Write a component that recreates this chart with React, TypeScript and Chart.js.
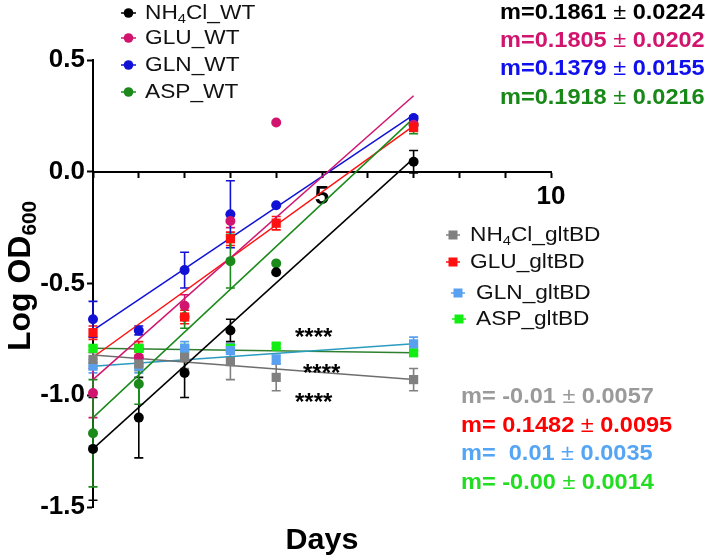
import React, { useEffect, useRef } from 'react';
import { Chart, registerables } from 'chart.js';

Chart.register(...registerables);

// ---------- data ----------
const days = [0, 1, 2, 3, 4, 7];
const fitDays = [0, 7];

const nh4clWT = [-1.24, -1.1, -0.9, -0.71, -0.45, 0.045];
const nh4clWTErr = [0.23, 0.18, 0.11, 0.05, 0, 0.05];
const gluWT = [-0.99, -0.83, -0.6, -0.22, 0.22, 0.21];
const gluWTErr = [0.11, 0.04, 0.05, 0.03, 0, 0.02];
const glnWT = [-0.66, -0.71, -0.44, -0.19, -0.15, 0.24];
const glnWTErr = [0.08, 0.02, 0.08, 0.15, 0, 0.01];
const aspWT = [-1.17, -0.95, -0.65, -0.4, -0.41, 0.21];
const aspWTErr = [0.24, 0.09, 0.05, 0.12, 0, 0.04];

const nh4clBD = [-0.84, -0.86, -0.83, -0.85, -0.92, -0.93];
const nh4clBDErr = [0.03, 0.03, 0.05, 0.08, 0.06, 0.05];
const gluBD = [-0.72, -0.79, -0.65, -0.3, -0.23, 0.2];
const gluBDErr = [0.03, 0.03, 0.03, 0.03, 0.03, 0.02];
const glnBD = [-0.87, -0.87, -0.79, -0.8, -0.84, -0.77];
const glnBDErr = [0.03, 0.03, 0.03, 0.03, 0.02, 0.03];
const aspBD = [-0.79, -0.79, -0.79, -0.79, -0.78, -0.81];
const aspBDErr = [0.01, 0.01, 0.01, 0.01, 0.01, 0.01];

const nh4clWTFit = [-1.24, 0.06];
const gluWTFit = [-0.93, 0.34];
const glnWTFit = [-0.71, 0.255];
const aspWTFit = [-1.1, 0.24];
const nh4clBDFit = [-0.82, -0.93];
const gluBDFit = [-0.83, 0.205];
const glnBDFit = [-0.87, -0.77];
const aspBDFit = [-0.79, -0.81];

const wtSlopes = ['0.1861', '0.1805', '0.1379', '0.1918'];
const wtSlopeErrs = ['0.0224', '0.0202', '0.0155', '0.0216'];
const bdSlopes = [' -0.01', ' 0.1482', '  0.01', ' -0.00'];
const bdSlopeErrs = ['0.0057', '0.0095', '0.0035', '0.0014'];

const yTicks = [-1.5, -1.0, -0.5, 0.0, 0.5];
const xTickLabels = [5, 10];
const stars = ['****', '****', '****'];

// ---------- styles ----------
const FONT = '"Liberation Sans", Arial, Helvetica, sans-serif';
const C = {
  nh4clWT: '#000000',
  gluWT: '#d1156f',
  glnWT: '#1212d6',
  aspWT: '#1b8a1b',
  nh4clBD: '#808080',
  gluBD: '#ff1010',
  glnBD: '#5aa0f0',
  aspBD: '#12ee12',
};
const FITC = {
  nh4clWT: '#000000',
  gluWT: '#d1156f',
  glnWT: '#1212d6',
  aspWT: '#1b8a1b',
  nh4clBD: '#6e6e6e',
  gluBD: '#ff1010',
  glnBD: '#2a9cc0',
  aspBD: '#2f7f2f',
};

type Seg = { t: string; sub?: boolean; light?: boolean };

function drawRich(
  ctx: CanvasRenderingContext2D,
  segs: Seg[],
  x: number,
  y: number,
  size: number,
  color: string,
  bold: boolean,
  sx = 1,
  align: 'left' | 'center' = 'left'
) {
  ctx.save();
  ctx.fillStyle = color;
  ctx.textBaseline = 'middle';
  ctx.textAlign = 'left';
  const fontFor = (s: Seg) => {
    const sz = s.sub ? size * 0.65 : size;
    const w = bold && !s.light ? 'bold ' : '';
    return `${w}${sz}px ${FONT}`;
  };
  let total = 0;
  for (const s of segs) {
    ctx.font = fontFor(s);
    total += ctx.measureText(s.t).width;
  }
  ctx.translate(x, y);
  ctx.scale(sx, 1);
  let cx = align === 'center' ? -total / 2 : 0;
  for (const s of segs) {
    ctx.font = fontFor(s);
    ctx.fillText(s.t, cx, s.sub ? size * 0.28 : 0);
    cx += ctx.measureText(s.t).width;
  }
  ctx.restore();
}

const errorBars = {
  id: 'errorBars',
  beforeDatasetsDraw(chart: any) {
    const ctx = chart.ctx;
    const xs = chart.scales.x;
    const ys = chart.scales.y;
    chart.data.datasets.forEach((ds: any) => {
      if (!ds.err) return;
      ctx.save();
      ctx.strokeStyle = ds.errColor || ds.backgroundColor;
      ctx.lineWidth = 1.6;
      ds.data.forEach((p: any, i: number) => {
        const e = ds.err[i];
        if (!e) return;
        const px = xs.getPixelForValue(p.x);
        const y1 = ys.getPixelForValue(p.y + e);
        const y2 = ys.getPixelForValue(p.y - e);
        ctx.beginPath();
        ctx.moveTo(px, y1);
        ctx.lineTo(px, y2);
        ctx.moveTo(px - 4.5, y1);
        ctx.lineTo(px + 4.5, y1);
        ctx.moveTo(px - 4.5, y2);
        ctx.lineTo(px + 4.5, y2);
        ctx.stroke();
      });
      ctx.restore();
    });
  },
};

const annotations = {
  id: 'annotations',
  afterDraw(chart: any) {
    const ctx: CanvasRenderingContext2D = chart.ctx;
    const SX = 1.07;
    // WT legend
    const wtLeg: [Seg[], string][] = [
      [[{ t: 'NH' }, { t: '4', sub: true }, { t: 'Cl_WT' }], C.nh4clWT],
      [[{ t: 'GLU_WT' }], C.gluWT],
      [[{ t: 'GLN_WT' }], C.glnWT],
      [[{ t: 'ASP_WT' }], C.aspWT],
    ];
    const wtY = [13, 38, 65, 92];
    wtLeg.forEach(([segs, col], i) => {
      const y = wtY[i];
      ctx.save();
      ctx.strokeStyle = col;
      ctx.lineWidth = 1.5;
      ctx.beginPath();
      ctx.moveTo(121, y);
      ctx.lineTo(136, y);
      ctx.stroke();
      ctx.fillStyle = col;
      ctx.beginPath();
      ctx.arc(128.5, y, 4.8, 0, Math.PI * 2);
      ctx.fill();
      ctx.restore();
      drawRich(ctx, segs, 145, y, 21, '#111', false, 1.08);
    });
    // gltBD legend
    const bdLeg: [Seg[], string, number, number][] = [
      [[{ t: 'NH' }, { t: '4', sub: true }, { t: 'Cl_gltBD' }], C.nh4clBD, 453, 470],
      [[{ t: 'GLU_gltBD' }], C.gluBD, 453, 470],
      [[{ t: 'GLN_gltBD' }], C.glnBD, 458, 476],
      [[{ t: 'ASP_gltBD' }], C.aspBD, 459, 476],
    ];
    const bdY = [235, 262, 293, 319];
    bdLeg.forEach(([segs, col, mx, tx], i) => {
      const y = bdY[i];
      ctx.save();
      ctx.strokeStyle = col;
      ctx.lineWidth = 1.5;
      ctx.beginPath();
      ctx.moveTo(mx - 7, y);
      ctx.lineTo(mx + 7, y);
      ctx.stroke();
      ctx.fillStyle = col;
      ctx.fillRect(mx - 4.5, y - 4.5, 9, 9);
      ctx.restore();
      drawRich(ctx, segs, tx, y, 21, '#111', false, 1.08);
    });
    // slopes WT
    const wtCols = ['#000000', '#d1156f', '#1010ee', '#188818'];
    const wtTY = [13, 41, 69, 98];
    wtSlopes.forEach((s, i) => {
      drawRich(
        ctx,
        [{ t: 'm=' + s + ' ' }, { t: '±', light: true }, { t: ' ' + wtSlopeErrs[i] }],
        500,
        wtTY[i],
        22,
        wtCols[i],
        true,
        SX
      );
    });
    const bdCols = ['#9a9a9a', '#ff0000', '#55a5f5', '#22dd22'];
    const bdTY = [397, 426, 454, 483];
    bdSlopes.forEach((s, i) => {
      drawRich(
        ctx,
        [{ t: 'm=' + s + ' ' }, { t: '±', light: true }, { t: ' ' + bdSlopeErrs[i] }],
        461,
        bdTY[i],
        22,
        bdCols[i],
        true,
        SX
      );
    });
    // stars
    const starPos = [
      [295, 338],
      [303, 374],
      [295, 403],
    ];
    stars.forEach((s, i) => {
      drawRich(ctx, [{ t: s }], starPos[i][0], starPos[i][1], 24, '#000', true, 1);
    });
    // axis titles
    drawRich(ctx, [{ t: 'Days' }], 322, 541, 29, '#000', true, 1.05, 'center');
    ctx.save();
    ctx.translate(21, 276);
    ctx.rotate(-Math.PI / 2);
    drawRich(ctx, [{ t: 'Log OD' }, { t: '600', sub: true }], 0, 0, 32, '#000', true, 1, 'center');
    ctx.restore();
  },
};

function pts(ys: number[], xs: number[] = days) {
  return ys.map((y, i) => ({ x: xs[i], y }));
}

export default function App() {
  const ref = useRef<HTMLCanvasElement>(null);
  useEffect(() => {
    document.body.style.margin = '0';
    const canvas = ref.current!;
    const circle = (label: string, data: number[], err: number[], col: string) => ({
      type: 'scatter',
      label,
      data: pts(data),
      err,
      backgroundColor: col,
      borderColor: col,
      pointStyle: 'circle',
      pointRadius: 5,
      pointBorderWidth: 0,
      showLine: false,
      clip: false,
    });
    const square = (label: string, data: number[], err: number[], col: string) => ({
      type: 'scatter',
      label,
      data: pts(data),
      err,
      backgroundColor: col,
      borderColor: col,
      pointStyle: 'rect',
      pointRadius: 6.5,
      pointBorderWidth: 0,
      showLine: false,
      clip: false,
    });
    const fit = (label: string, data: number[], col: string) => ({
      type: 'line',
      label,
      data: pts(data, fitDays),
      borderColor: col,
      borderWidth: 1.5,
      pointRadius: 0,
      fill: false,
      clip: false,
    });
    const chart = new Chart(canvas, {
      type: 'scatter',
      data: {
        datasets: [
          square('NH4Cl_gltBD', nh4clBD, nh4clBDErr, C.nh4clBD),
          square('GLN_gltBD', glnBD, glnBDErr, C.glnBD),
          square('ASP_gltBD', aspBD, aspBDErr, C.aspBD),
          square('GLU_gltBD', gluBD, gluBDErr, C.gluBD),
          circle('NH4Cl_WT', nh4clWT, nh4clWTErr, C.nh4clWT),
          circle('GLU_WT', gluWT, gluWTErr, C.gluWT),
          circle('GLN_WT', glnWT, glnWTErr, C.glnWT),
          circle('ASP_WT', aspWT, aspWTErr, C.aspWT),
          fit('NH4Cl_WT fit', nh4clWTFit, FITC.nh4clWT),
          fit('GLU_WT fit', gluWTFit, FITC.gluWT),
          fit('GLN_WT fit', glnWTFit, FITC.glnWT),
          fit('ASP_WT fit', aspWTFit, FITC.aspWT),
          fit('NH4Cl_gltBD fit', nh4clBDFit, FITC.nh4clBD),
          fit('GLU_gltBD fit', gluBDFit, FITC.gluBD),
          fit('GLN_gltBD fit', glnBDFit, FITC.glnBD),
          fit('ASP_gltBD fit', aspBDFit, FITC.aspBD),
        ] as any,
      },
      options: {
        animation: false,
        responsive: false,
        events: [],
        layout: { padding: { left: 0, right: 157, top: 60, bottom: 53 } },
        plugins: { legend: { display: false }, tooltip: { enabled: false } },
        scales: {
          x: {
            type: 'linear',
            position: { y: 0 } as any,
            min: 0,
            max: 10,
            grid: { drawOnChartArea: false, drawTicks: true, tickLength: 5, tickWidth: 2, tickColor: '#000' },
            border: { display: true, color: '#000', width: 2 },
            ticks: {
              stepSize: 1,
              autoSkip: false,
              maxRotation: 0,
              padding: 4,
              color: '#000',
              font: { family: FONT, size: 26, weight: 'bold' },
              callback: (v: any) => (xTickLabels.includes(Number(v)) ? String(v) : ''),
            },
          },
          y: {
            type: 'linear',
            position: 'left',
            min: -1.5,
            max: 0.5,
            afterFit: (s: any) => {
              s.width = 93;
            },
            afterBuildTicks: (s: any) => {
              s.ticks = yTicks.map((v) => ({ value: v }));
            },
            grid: { drawOnChartArea: false, drawTicks: true, tickLength: 6, tickWidth: 2, tickColor: '#000' },
            border: { display: true, color: '#000', width: 2 },
            ticks: {
              padding: 2,
              color: '#000',
              font: { family: FONT, size: 26, weight: 'bold' },
              callback: (v: any) => Number(v).toFixed(1),
            },
          },
        },
      },
      plugins: [errorBars, annotations],
    } as any);
    return () => chart.destroy();
  }, []);
  return (
    <div style={{ width: 708, height: 560, background: '#fff' }}>
      <canvas ref={ref} width={708} height={560} style={{ display: 'block' }} />
    </div>
  );
}
